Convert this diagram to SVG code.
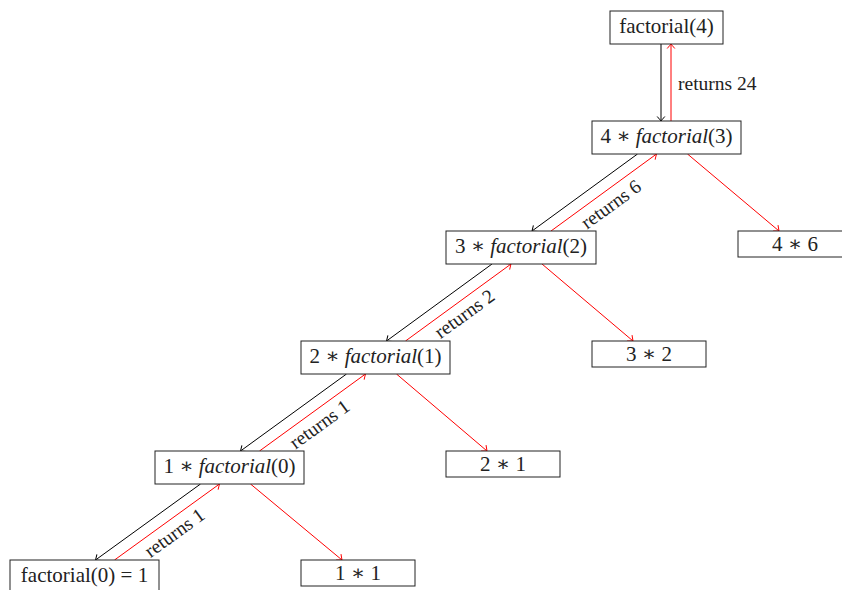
<svg xmlns="http://www.w3.org/2000/svg" width="842" height="590" viewBox="0 0 842 590">
<style>
.box{fill:#fff;stroke:#222;stroke-width:1}
.t{font-family:"Liberation Serif","DejaVu Serif",serif;font-size:21px;fill:#222;text-anchor:middle}
.i{font-style:italic}
.lbl{font-family:"Liberation Serif","DejaVu Serif",serif;font-size:19.5px;fill:#222}
.k{stroke:#000;stroke-width:1;fill:none}
.r{stroke:#f00;stroke-width:1;fill:none}
</style>
<defs>
<marker id="ak" viewBox="-6 -5 7 10" refX="0" refY="0" markerWidth="7" markerHeight="10" markerUnits="userSpaceOnUse" orient="auto">
<path d="M-4.5,-3.8 Q-1.2,-1 0,0 Q-1.2,1 -4.5,3.8" fill="none" stroke="#000" stroke-width="1"/>
</marker>
<marker id="ar" viewBox="-6 -5 7 10" refX="0" refY="0" markerWidth="7" markerHeight="10" markerUnits="userSpaceOnUse" orient="auto">
<path d="M-4.5,-3.8 Q-1.2,-1 0,0 Q-1.2,1 -4.5,3.8" fill="none" stroke="#f00" stroke-width="1"/>
</marker>
</defs>
<g id="connectors">
<line class="k" x1="661" y1="44" x2="661" y2="121" marker-end="url(#ak)"/>
<line class="r" x1="671" y1="121" x2="671" y2="44" marker-end="url(#ar)"/>
<line class="k" x1="637.5" y1="154" x2="532" y2="231" marker-end="url(#ak)"/>
<line class="r" x1="551" y1="231" x2="656.5" y2="154" marker-end="url(#ar)"/>
<line class="r" x1="687.5" y1="154" x2="779" y2="231" marker-end="url(#ar)"/>
<line class="k" x1="492" y1="264" x2="386.5" y2="341" marker-end="url(#ak)"/>
<line class="r" x1="405.5" y1="341" x2="511" y2="264" marker-end="url(#ar)"/>
<line class="r" x1="542" y1="264" x2="633" y2="341" marker-end="url(#ar)"/>
<line class="k" x1="346.5" y1="374" x2="240.5" y2="451" marker-end="url(#ak)"/>
<line class="r" x1="259.5" y1="451" x2="365.5" y2="374" marker-end="url(#ar)"/>
<line class="r" x1="396.5" y1="374" x2="487" y2="451" marker-end="url(#ar)"/>
<line class="k" x1="200.5" y1="484" x2="95.5" y2="560" marker-end="url(#ak)"/>
<line class="r" x1="114.5" y1="560" x2="219.5" y2="484" marker-end="url(#ar)"/>
<line class="r" x1="250.5" y1="484" x2="342" y2="560" marker-end="url(#ar)"/>
<text class="lbl" x="678" y="90">returns 24</text>
<text class="lbl" text-anchor="middle" transform="translate(612,205.5) rotate(-36)" y="5">returns 6</text>
<text class="lbl" text-anchor="middle" transform="translate(465.5,315) rotate(-36)" y="5">returns 2</text>
<text class="lbl" text-anchor="middle" transform="translate(320.5,425.5) rotate(-36)" y="5">returns 1</text>
<text class="lbl" text-anchor="middle" transform="translate(175.5,534) rotate(-36)" y="5">returns 1</text>
</g>
<g id="n4"><rect class="box" x="610" y="11" width="113" height="33"/><text class="t" x="666.5" y="33">factorial(4)</text></g>
<g id="n3"><rect class="box" x="592" y="121" width="149" height="33"/><text class="t" x="666.5" y="143"><tspan>4 ∗ </tspan><tspan class="i">factorial</tspan><tspan>(3)</tspan></text></g>
<g id="n2"><rect class="box" x="446" y="231" width="150" height="33"/><text class="t" x="521" y="253"><tspan>3 ∗ </tspan><tspan class="i">factorial</tspan><tspan>(2)</tspan></text></g>
<g id="n1"><rect class="box" x="301" y="341" width="149" height="33"/><text class="t" x="375.5" y="363"><tspan>2 ∗ </tspan><tspan class="i">factorial</tspan><tspan>(1)</tspan></text></g>
<g id="n0"><rect class="box" x="155" y="451" width="149" height="33"/><text class="t" x="229.5" y="473"><tspan>1 ∗ </tspan><tspan class="i">factorial</tspan><tspan>(0)</tspan></text></g>
<g id="base"><rect class="box" x="10" y="560" width="149" height="33"/><text class="t" x="84.5" y="582">factorial(0) = 1</text></g>
<g id="r3"><rect class="box" x="738" y="231" width="114" height="26"/><text class="t" x="795" y="251">4 ∗ 6</text></g>
<g id="r2"><rect class="box" x="592" y="341" width="114" height="26"/><text class="t" x="649" y="361">3 ∗ 2</text></g>
<g id="r1"><rect class="box" x="446" y="451" width="114" height="26"/><text class="t" x="503" y="471">2 ∗ 1</text></g>
<g id="r0"><rect class="box" x="301" y="560" width="114" height="26"/><text class="t" x="358" y="580">1 ∗ 1</text></g>
</svg>
